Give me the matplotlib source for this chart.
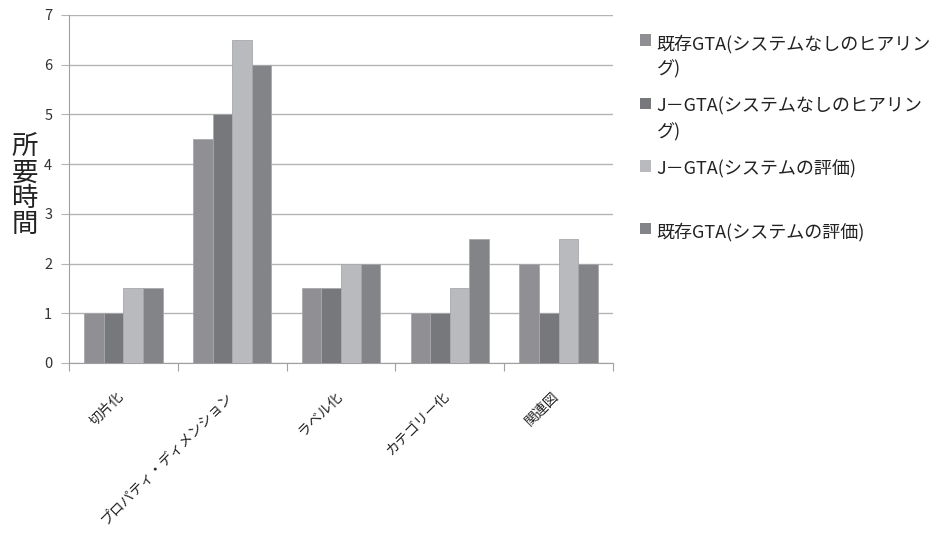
import matplotlib
matplotlib.use("Agg")
import matplotlib.pyplot as plt
import numpy as np
from matplotlib.patches import Patch

plt.rcParams["font.family"] = ["Noto Sans CJK JP", "DejaVu Sans"]

categories = ["切片化", "プロパティ・ディメンション", "ラベル化", "カテゴリー化", "関連図"]
series_names = [
    "既存GTA(システムなしのヒアリン\nグ)",
    "J－GTA(システムなしのヒアリン\nグ)",
    "J－GTA(システムの評価)\n ",
    "既存GTA(システムの評価)",
]
kizon_hearing = [1, 4.5, 1.5, 1, 2]
jgta_hearing = [1, 5, 1.5, 1, 1]
jgta_eval = [1.5, 6.5, 2, 1.5, 2.5]
kizon_eval = [1.5, 6, 2, 2.5, 2]
colors = ["#909094", "#77787c", "#b9babd", "#838488"]

W, H = 939, 533
fig = plt.figure(figsize=(W / 100, H / 100), dpi=100)
ax = fig.add_axes([69 / W, (H - 363) / H, (613 - 69) / W, (363 - 15) / H])

x = np.arange(len(categories))
w = 0.18
for j, vals in enumerate([kizon_hearing, jgta_hearing, jgta_eval, kizon_eval]):
    ax.bar(x + (j - 1.5) * w, vals, w, color=colors[j], edgecolor="#a8a8ab",
           linewidth=0.6, zorder=3)

ax.set_xlim(-0.5, len(categories) - 0.5)
ax.set_ylim(0, 7)
ax.set_yticks(range(0, 8))
ax.yaxis.grid(True, color="#b4b4b4", linewidth=1.0, zorder=0)
ax.tick_params(axis="y", length=6, color="#b4b4b4", labelsize=10.5,
               labelcolor="#333333", pad=6)

ax.set_xticks(np.arange(len(categories) + 1) - 0.5)
ax.set_xticklabels([])
ax.tick_params(axis="x", length=6, color="#a0a0a0")
for i, c in enumerate(categories):
    ax.annotate(c, (i + 0.03, 0), xycoords=("data", "axes fraction"),
                xytext=(0, -19), textcoords="offset points",
                rotation=45, ha="right", va="top", fontsize=10,
                color="#222222")

for s in ["top", "right"]:
    ax.spines[s].set_visible(False)
ax.spines["left"].set_color("#a0a0a0")
ax.spines["bottom"].set_color("#a0a0a0")

fig.text(25 / W, 1 - 186 / H, "所\n要\n時\n間", ha="center", va="center",
         fontsize=19, linespacing=0.95, color="#222222")

handles = [Patch(facecolor=c, edgecolor="none") for c in colors]
leg = fig.legend(handles, series_names, loc="upper left",
                 bbox_to_anchor=(633 / W, 1 - 27 / H), frameon=False,
                 fontsize=13, handlelength=0.6, handleheight=0.6,
                 handletextpad=0.3, labelspacing=1.05, borderaxespad=0)
for col in leg._legend_handle_box.get_children():
    for row in col.get_children():
        row.align = "top"
for t in leg.get_texts():
    t.set_color("#222222")
    t.set_linespacing(1.5)

fig.savefig("out.png", dpi=100)
